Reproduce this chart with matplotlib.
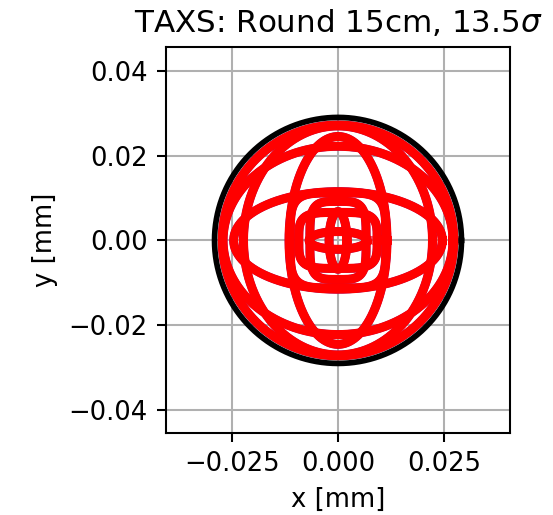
import numpy as np
import matplotlib
matplotlib.use("Agg")
import matplotlib.pyplot as plt

# aperture of the absorber (circle radius, in the plotted units)
aperture_radius = 0.0290

# beam envelope shapes: semi-axes in x and y, and superellipse exponent
env_ax = [0.0272, 0.0270, 0.0222, 0.0245, 0.0115, 0.0112, 0.0066, 0.0092, 0.0068, 0.0021]
env_ay = [0.0272, 0.0222, 0.0270, 0.0115, 0.0245, 0.0112, 0.0092, 0.0066, 0.0021, 0.0068]
env_pw = [2.0, 2.0, 2.0, 2.0, 2.0, 4.5, 4.0, 4.0, 2.0, 2.0]

x_ticks = [-0.025, 0.000, 0.025]
y_ticks = [-0.04, -0.02, 0.00, 0.02, 0.04]

dpi = 186
fig = plt.figure(figsize=(553 / dpi, 515 / dpi), dpi=dpi)
ax = fig.add_axes([166 / 553, 1 - 433 / 515, 344 / 553, 386 / 515])

t = np.linspace(0, 2 * np.pi, 1441)


def superellipse(a, b, p):
    c, s = np.cos(t), np.sin(t)
    x = a * np.sign(c) * np.abs(c) ** (2.0 / p)
    y = b * np.sign(s) * np.abs(s) ** (2.0 / p)
    return x, y


for a, b, p in zip(env_ax, env_ay, env_pw):
    x, y = superellipse(a, b, p)
    ax.plot(x, y, color="blue", lw=3.3, zorder=3)
for a, b, p in zip(env_ax, env_ay, env_pw):
    x, y = superellipse(a, b, p)
    ax.plot(x, y, color="red", lw=3.5, zorder=4)

ax.plot(aperture_radius * np.cos(t), aperture_radius * np.sin(t),
        color="black", lw=2.2, zorder=5)

ax.set_xlim(-0.0404, 0.0404)
ax.set_ylim(-0.0454, 0.0456)
ax.set_xticks(x_ticks)
ax.set_yticks(y_ticks)
ax.grid(True)
ax.set_axisbelow(True)
ax.set_xlabel("x [mm]")
ax.set_ylabel("y [mm]")
ax.set_title(r"TAXS: Round 15cm, 13.5$\sigma$")

fig.savefig("out.png", dpi=dpi)
